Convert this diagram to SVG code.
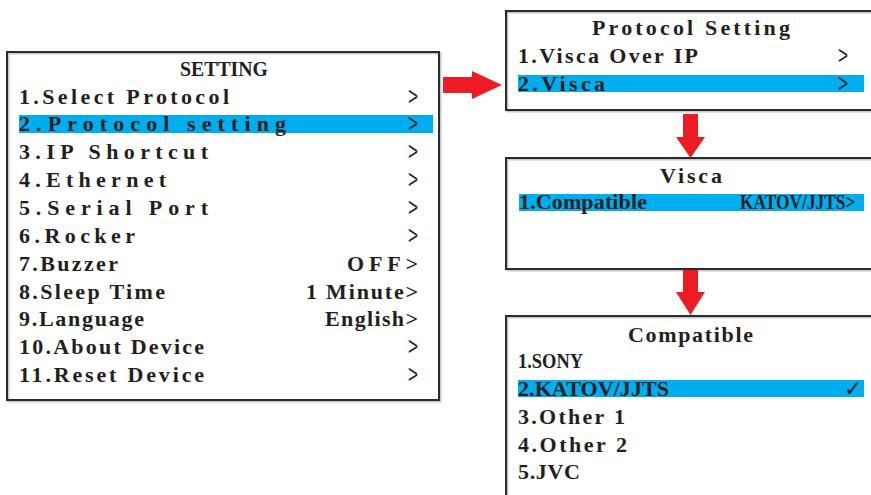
<svg xmlns="http://www.w3.org/2000/svg" width="871" height="495" viewBox="0 0 871 495">
<style>
.bg{fill:#ffffff}
.shadow{fill:none;stroke:#c8c8c8;stroke-width:2}
.box{fill:none;stroke:#2b2b2b;stroke-width:2}
.hl{fill:#00adee}
.t{font-family:"Liberation Serif","DejaVu Serif",serif;font-weight:bold;font-size:22px;fill:#231f20}
.ttl{font-family:"Liberation Serif","DejaVu Serif",serif;font-weight:bold;font-size:22px;fill:#231f20}
.chev{font-family:"Liberation Sans","DejaVu Sans",sans-serif;font-size:25px;fill:#231f20}
.chk{font-family:"DejaVu Sans",sans-serif;font-weight:bold;font-size:22px;fill:#231f20}
.arrow{fill:#ed1c24}
</style>
<rect class="bg" x="0" y="0" width="871" height="495"/>

<g id="setting">
  <rect class="shadow" x="8.5" y="53.5" width="432" height="348"/>
  <rect class="box" x="7" y="52" width="432" height="348"/>
  <rect class="hl" x="19" y="115" width="414" height="18"/>
  <text class="ttl" transform="translate(180,76) scale(0.9,1)" x="0" y="0">SETTING</text>
  <text class="t" x="19" y="104" textLength="210" lengthAdjust="spacing">1.Select Protocol</text>
  <text class="t" x="19" y="131" textLength="267" lengthAdjust="spacing">2.Protocol setting</text>
  <text class="t" x="19" y="159" textLength="189" lengthAdjust="spacing">3.IP Shortcut</text>
  <text class="t" x="19" y="187" textLength="147" lengthAdjust="spacing">4.Ethernet</text>
  <text class="t" x="19" y="215" textLength="189" lengthAdjust="spacing">5.Serial Port</text>
  <text class="t" x="19" y="243" textLength="116" lengthAdjust="spacing">6.Rocker</text>
  <text class="t" x="19" y="271" textLength="99" lengthAdjust="spacing">7.Buzzer</text>
  <text class="t" x="19" y="299" textLength="146" lengthAdjust="spacing">8.Sleep Time</text>
  <text class="t" x="19" y="326" textLength="125" lengthAdjust="spacing">9.Language</text>
  <text class="t" x="19" y="354" textLength="185" lengthAdjust="spacing">10.About Device</text>
  <text class="t" x="19" y="382" textLength="185" lengthAdjust="spacing">11.Reset Device</text>
  <text class="chev" x="408" y="105" textLength="10" lengthAdjust="spacingAndGlyphs">&gt;</text>
  <text class="chev" x="408" y="132" textLength="10" lengthAdjust="spacingAndGlyphs">&gt;</text>
  <text class="chev" x="408" y="160" textLength="10" lengthAdjust="spacingAndGlyphs">&gt;</text>
  <text class="chev" x="408" y="188" textLength="10" lengthAdjust="spacingAndGlyphs">&gt;</text>
  <text class="chev" x="408" y="216" textLength="10" lengthAdjust="spacingAndGlyphs">&gt;</text>
  <text class="chev" x="408" y="244" textLength="10" lengthAdjust="spacingAndGlyphs">&gt;</text>
  <text class="t" x="347" y="271" textLength="71" lengthAdjust="spacing">OFF&gt;</text>
  <text class="t" x="306" y="299" textLength="112" lengthAdjust="spacing">1 Minute&gt;</text>
  <text class="t" x="325" y="326" textLength="93" lengthAdjust="spacing">English&gt;</text>
  <text class="chev" x="408" y="355" textLength="10" lengthAdjust="spacingAndGlyphs">&gt;</text>
  <text class="chev" x="408" y="383" textLength="10" lengthAdjust="spacingAndGlyphs">&gt;</text>
</g>

<g id="protocol-setting">
  <rect class="shadow" x="507.5" y="12.5" width="380" height="99"/>
  <rect class="box" x="506" y="11" width="380" height="99"/>
  <rect class="hl" x="518" y="75" width="346" height="17"/>
  <text class="ttl" x="592" y="35" textLength="198" lengthAdjust="spacing">Protocol Setting</text>
  <text class="t" x="518" y="63" textLength="180" lengthAdjust="spacing">1.Visca Over IP</text>
  <text class="t" x="518" y="91" textLength="87" lengthAdjust="spacing">2.Visca</text>
  <text class="chev" x="838" y="64" textLength="10" lengthAdjust="spacingAndGlyphs">&gt;</text>
  <text class="chev" x="838" y="92" textLength="10" lengthAdjust="spacingAndGlyphs">&gt;</text>
</g>

<g id="visca">
  <rect class="shadow" x="507.5" y="159.5" width="380" height="111"/>
  <rect class="box" x="506" y="158" width="380" height="111"/>
  <rect class="hl" x="519" y="194" width="345" height="17"/>
  <text class="ttl" x="660" y="183" textLength="62" lengthAdjust="spacing">Visca</text>
  <text class="t" x="519" y="209" textLength="128" lengthAdjust="spacing">1.Compatible</text>
  <text class="t" transform="translate(740,209) scale(0.79,1)" x="0" y="0">KATOV/JJTS&gt;</text>
</g>

<g id="compatible">
  <rect class="shadow" x="507.5" y="317.5" width="380" height="200"/>
  <rect class="box" x="506" y="316" width="380" height="200"/>
  <rect class="hl" x="518" y="380" width="346" height="17"/>
  <text class="ttl" x="628" y="342" textLength="125" lengthAdjust="spacing">Compatible</text>
  <text class="t" transform="translate(518,368) scale(0.84,1)" x="0" y="0">1.SONY</text>
  <text class="t" x="518" y="396" textLength="151" lengthAdjust="spacing">2.KATOV/JJTS</text>
  <text class="t" x="518" y="424" textLength="107" lengthAdjust="spacing">3.Other 1</text>
  <text class="t" x="518" y="452" textLength="109" lengthAdjust="spacing">4.Other 2</text>
  <text class="t" x="518" y="479" textLength="62" lengthAdjust="spacing">5.JVC</text>
  <text class="chk" x="844" y="396">✓</text>
</g>

<g id="connectors">
  <polygon class="arrow" points="443,77 472,77 472,71 502,85 472,99 472,93 443,93"/>
  <polygon class="arrow" points="683,114 698,114 698,137 705,137 690.5,158 676,137 683,137"/>
  <polygon class="arrow" points="683,270 698,270 698,292 705,292 690.5,315 676,292 683,292"/>
</g>
</svg>
